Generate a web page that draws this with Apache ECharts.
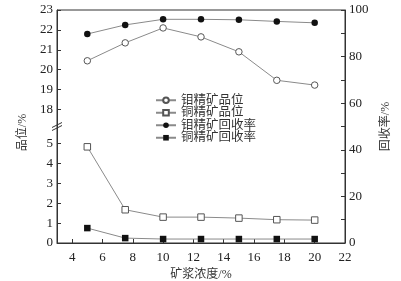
<!DOCTYPE html>
<html><head><meta charset="utf-8">
<script src="https://cdn.jsdelivr.net/npm/echarts@6/dist/echarts.min.js"></script>
<style>html,body{margin:0;padding:0;background:#fff}#c{width:401px;height:281px}</style>
</head><body><div id="c"></div>
<script>
const concentration = [5, 7.5, 10, 12.5, 15, 17.5, 20];
const moGrade = [20.45, 21.35, 22.1, 21.65, 20.9, 19.47, 19.23];
const cuGrade = [4.83, 1.67, 1.3, 1.3, 1.25, 1.17, 1.15];
const moRecovery = [89.7, 93.6, 96.0, 96.0, 95.8, 95.1, 94.5];
const cuRecovery = [6.4, 2.1, 1.7, 1.7, 1.7, 1.7, 1.7];
const xTicks = [4, 6, 8, 10, 12, 14, 16, 18, 20, 22];
const lowTicks = [0, 1, 2, 3, 4, 5];
const highTicks = [18, 19, 20, 21, 22, 23];
const seriesNames = ['钼精矿品位', '铜精矿品位', '钼精矿回收率', '铜精矿回收率'];

const pair = arr => concentration.map((x, i) => [x, arr[i]]);
const numFont = 'Liberation Serif, Times New Roman, serif';
const cjkFont = 'Liberation Serif, Noto Sans CJK SC, serif';
const axisCol = '#333';
const lineCol = '#8a8a8a';

const chart = echarts.init(document.getElementById('c'), null, {renderer: 'canvas'});
const baseY = {
  type: 'value', position: 'left', gridIndex: 0,
  splitLine: {show: false},
  axisLine: {show: false},
  axisTick: {show: true, inside: true, length: 4, lineStyle: {color: axisCol}},
  axisLabel: {fontFamily: numFont, fontSize: 13, color: '#222', margin: 4}
};
chart.setOption({
  animation: false,
  grid: {left: 57, right: 56, top: 10, bottom: 38, show: true, borderColor: axisCol, borderWidth: 1,
         outerBoundsMode: 'none', containLabel: false},
  legend: {
    orient: 'vertical', left: 150, top: 89, itemGap: 0,
    itemWidth: 20, itemHeight: 7,
    textStyle: {fontFamily: cjkFont, fontSize: 12.5, color: '#333', lineHeight: 12.5},
    data: seriesNames
  },
  xAxis: {
    type: 'value', min: 3, max: 22,
    name: '矿浆浓度/%', nameLocation: 'middle', nameGap: 15,
    nameTextStyle: {fontFamily: cjkFont, fontSize: 12, color: '#333'},
    splitLine: {show: false},
    axisLine: {show: true, lineStyle: {color: axisCol}},
    axisTick: {show: true, inside: true, length: 4, customValues: xTicks, lineStyle: {color: axisCol}},
    axisLabel: {customValues: xTicks, fontFamily: numFont, fontSize: 13, color: '#222', margin: 8}
  },
  yAxis: [
    Object.assign({}, baseY, {
      min: 0, max: 11.7,
      name: '品位/%', nameLocation: 'middle', nameGap: 28, nameRotate: 90,
      nameTextStyle: {fontFamily: cjkFont, fontSize: 12, color: '#333', padding: [0, 12, 0, 0]},
      axisLine: {show: true, lineStyle: {color: axisCol}},
      axisTick: Object.assign({}, baseY.axisTick, {customValues: lowTicks}),
      axisLabel: Object.assign({}, baseY.axisLabel, {customValues: lowTicks})
    }),
    Object.assign({}, baseY, {
      min: 11.3, max: 23,
      axisTick: Object.assign({}, baseY.axisTick, {customValues: highTicks}),
      axisLabel: Object.assign({}, baseY.axisLabel, {customValues: highTicks})
    }),
    {
      type: 'value', position: 'right', min: 0, max: 100, interval: 20,
      name: '回收率/%', nameLocation: 'middle', nameGap: 30, nameRotate: 90,
      nameTextStyle: {fontFamily: cjkFont, fontSize: 12, color: '#333'},
      splitLine: {show: false},
      axisLine: {show: true, lineStyle: {color: axisCol}},
      axisTick: {show: true, inside: true, length: 4, lineStyle: {color: axisCol}},
      minorTick: {show: true, splitNumber: 2, length: 4, lineStyle: {color: axisCol}},
      axisLabel: {fontFamily: numFont, fontSize: 13, color: '#222', margin: 4}
    }
  ],
  series: [
    {name: seriesNames[0], type: 'line', yAxisIndex: 1, data: pair(moGrade),
     symbol: 'circle', symbolSize: 6.5, lineStyle: {color: lineCol, width: 1},
     itemStyle: {color: '#fff', borderColor: '#555', borderWidth: 1}},
    {name: seriesNames[1], type: 'line', yAxisIndex: 0, data: pair(cuGrade),
     symbol: 'rect', symbolSize: 6.5, lineStyle: {color: lineCol, width: 1},
     itemStyle: {color: '#fff', borderColor: '#555', borderWidth: 1}},
    {name: seriesNames[2], type: 'line', yAxisIndex: 2, data: pair(moRecovery),
     symbol: 'circle', symbolSize: 6.5, lineStyle: {color: lineCol, width: 1},
     itemStyle: {color: '#111', borderColor: '#111', borderWidth: 0}},
    {name: seriesNames[3], type: 'line', yAxisIndex: 2, data: pair(cuRecovery),
     symbol: 'rect', symbolSize: 6.5, lineStyle: {color: lineCol, width: 1},
     itemStyle: {color: '#111', borderColor: '#111', borderWidth: 0}}
  ]
});

// axis break mark between the two left-axis segments
const pLow = chart.convertToPixel({xAxisIndex: 0, yAxisIndex: 0}, [3, lowTicks[lowTicks.length - 1]]);
const pHigh = chart.convertToPixel({xAxisIndex: 0, yAxisIndex: 1}, [3, highTicks[0]]);
const bx = pLow[0], by = (pLow[1] + pHigh[1]) / 2;
chart.setOption({
  graphic: [
    {type: 'line', shape: {x1: bx - 5, y1: by + 1, x2: bx + 5, y2: by - 4}, style: {stroke: axisCol, lineWidth: 1}},
    {type: 'line', shape: {x1: bx - 5, y1: by + 4, x2: bx + 5, y2: by - 1}, style: {stroke: axisCol, lineWidth: 1}}
  ]
});
</script></body></html>
